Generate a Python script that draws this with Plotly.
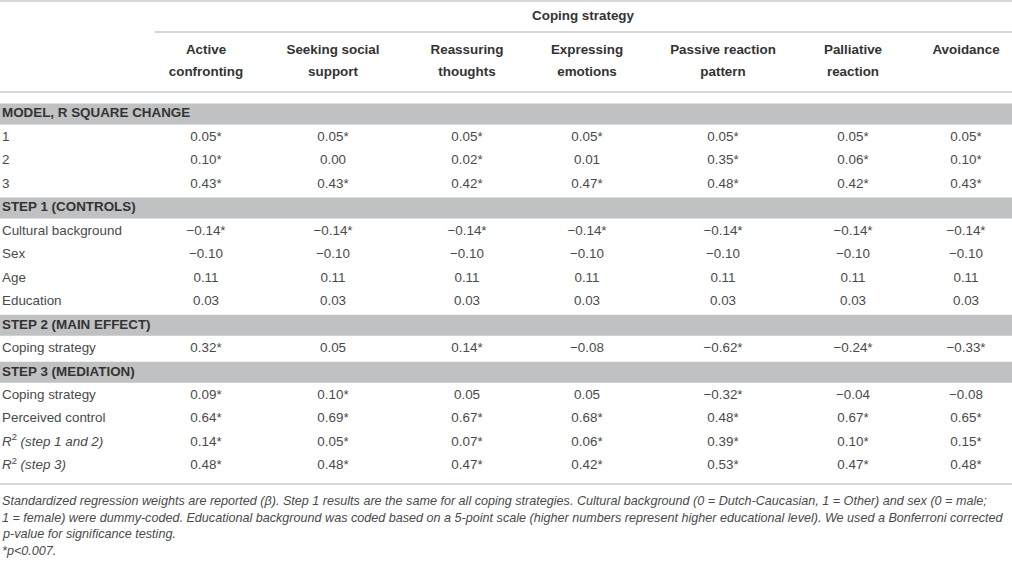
import plotly.graph_objects as go

# column headers (two lines each)
header_top = ["Active", "Seeking social", "Reassuring", "Expressing",
              "Passive reaction", "Palliative", "Avoidance"]
header_bottom = ["confronting", "support", "thoughts", "emotions",
                 "pattern", "reaction", ""]

# row labels; section rows get a grey band
row_labels = [
    "MODEL, R SQUARE CHANGE", "1", "2", "3",
    "STEP 1 (CONTROLS)", "Cultural background", "Sex", "Age", "Education",
    "STEP 2 (MAIN EFFECT)", "Coping strategy",
    "STEP 3 (MEDIATION)", "Coping strategy", "Perceived control",
    "<i>R</i><sup>2</sup><i> (step 1 and 2)</i>", "<i>R</i><sup>2</sup><i> (step 3)</i>",
]
section_rows = [0, 4, 9, 11]

# values per coping strategy (non-section rows, top to bottom)
active_confronting = ["0.05*", "0.10*", "0.43*", "\u22120.14*", "\u22120.10", "0.11", "0.03",
                      "0.32*", "0.09*", "0.64*", "0.14*", "0.48*"]
seeking_social_support = ["0.05*", "0.00", "0.43*", "\u22120.14*", "\u22120.10", "0.11", "0.03",
                          "0.05", "0.10*", "0.69*", "0.05*", "0.48*"]
reassuring_thoughts = ["0.05*", "0.02*", "0.42*", "\u22120.14*", "\u22120.10", "0.11", "0.03",
                       "0.14*", "0.05", "0.67*", "0.07*", "0.47*"]
expressing_emotions = ["0.05*", "0.01", "0.47*", "\u22120.14*", "\u22120.10", "0.11", "0.03",
                       "\u22120.08", "0.05", "0.68*", "0.06*", "0.42*"]
passive_reaction = ["0.05*", "0.35*", "0.48*", "\u22120.14*", "\u22120.10", "0.11", "0.03",
                    "\u22120.62*", "\u22120.32*", "0.48*", "0.39*", "0.53*"]
palliative_reaction = ["0.05*", "0.06*", "0.42*", "\u22120.14*", "\u22120.10", "0.11", "0.03",
                       "\u22120.24*", "\u22120.04", "0.67*", "0.10*", "0.47*"]
avoidance = ["0.05*", "0.10*", "0.43*", "\u22120.14*", "\u22120.10", "0.11", "0.03",
             "\u22120.33*", "\u22120.08", "0.65*", "0.15*", "0.48*"]
columns = [active_confronting, seeking_social_support, reassuring_thoughts,
           expressing_emotions, passive_reaction, palliative_reaction, avoidance]

footnote = [
    "Standardized regression weights are reported (\u03b2). Step 1 results are the same for all coping strategies. "
    "Cultural background (0 = Dutch-Caucasian, 1 = Other) and sex (0 = male;",
    "1 = female) were dummy-coded. Educational background was coded based on a 5-point scale "
    "(higher numbers represent higher educational level). We used a Bonferroni corrected",
    "p-value for significance testing.",
    "*p<0.007.",
]

# layout in page pixels
W, H = 1012, 561
col_x = [206, 333, 467, 587, 723, 853, 966]
row_y0, row_pitch = 114, 23.47
row_y = [row_y0 + i * row_pitch for i in range(len(row_labels))]
data_y = [y for i, y in enumerate(row_y) if i not in section_rows]
text_col = "#4a4a4a"
bold_col = "#333333"
line_col = "#c8c8c8"
band_col = "#c0c1c3"
fs = 13.4

fig = go.Figure()

shapes = []
for i in section_rows:
    shapes.append(dict(type="rect", x0=0, x1=W, y0=row_y[i] - 10.5, y1=row_y[i] + 10.5,
                       fillcolor=band_col, line_width=0, layer="below"))
for y, x0 in [(1, 0), (32, 155), (92, 0), (484, 0)]:
    shapes.append(dict(type="line", x0=x0, x1=W, y0=y, y1=y,
                       line=dict(color=line_col, width=1.5)))

# header
fig.add_trace(go.Scatter(x=[583], y=[17], mode="text", text=["<b>Coping strategy</b>"],
                         textposition="middle center",
                         textfont=dict(size=fs, color=bold_col), hoverinfo="skip"))
fig.add_trace(go.Scatter(x=col_x, y=[51] * 7, mode="text",
                         text=[f"<b>{t}</b>" for t in header_top],
                         textposition="middle center",
                         textfont=dict(size=fs, color=bold_col), hoverinfo="skip"))
fig.add_trace(go.Scatter(x=col_x[:6], y=[73] * 6, mode="text",
                         text=[f"<b>{t}</b>" for t in header_bottom[:6]],
                         textposition="middle center",
                         textfont=dict(size=fs, color=bold_col), hoverinfo="skip"))

# row labels
labels = [f"<b>{t}</b>" if i in section_rows else t for i, t in enumerate(row_labels)]
fig.add_trace(go.Scatter(x=[2] * len(labels), y=row_y, mode="text", text=labels,
                         textposition="middle right",
                         textfont=dict(size=fs,
                                       color=[bold_col if i in section_rows else text_col
                                              for i in range(len(labels))]),
                         hoverinfo="skip"))

# values
for x, vals in zip(col_x, columns):
    fig.add_trace(go.Scatter(x=[x] * len(vals), y=data_y, mode="text", text=vals,
                             textposition="middle center",
                             textfont=dict(size=fs, color=text_col), hoverinfo="skip"))

annotations = []
for k, line in enumerate(footnote):
    annotations.append(dict(x=0, y=501 + k * 16.7, xref="x", yref="y", text=f"<i>{line}</i>",
                            showarrow=False, xanchor="left", yanchor="middle",
                            font=dict(size=12.6, color=text_col)))

fig.update_layout(
    width=W, height=H,
    margin=dict(l=0, r=0, t=0, b=0),
    paper_bgcolor="white", plot_bgcolor="white",
    font=dict(family="Liberation Sans, Arial, sans-serif"),
    showlegend=False,
    shapes=shapes,
    annotations=annotations,
    xaxis=dict(range=[0, W], visible=False, fixedrange=True),
    yaxis=dict(range=[H, 0], visible=False, fixedrange=True),
)

# drop the default page margin so the figure sits at the window's corner
fig.write_html("out.html", config={"displayModeBar": False},
               post_script="document.body.style.margin='0';")
